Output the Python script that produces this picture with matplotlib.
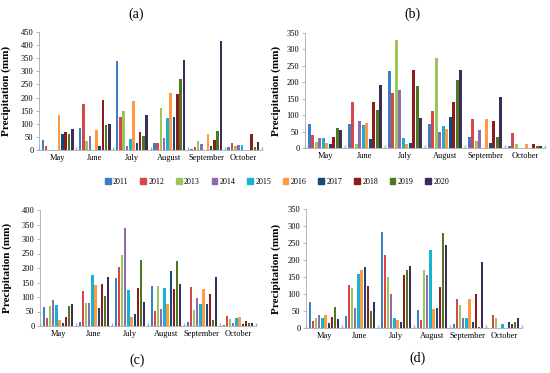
import numpy as np
import matplotlib.pyplot as plt
from matplotlib.patches import Patch

plt.rcParams['font.family'] = ['Liberation Serif', 'DejaVu Serif']

months = ['May', 'June', 'July', 'August', 'September', 'October']
years = ['2011', '2012', '2013', '2014', '2015', '2016', '2017', '2018', '2019', '2020']
colors = ['#3A7FC1', '#D9474B', '#9CC55C', '#8F6BB5', '#17B2D2',
          '#FF9A40', '#10497A', '#8A1C1E', '#4D7721', '#3E2B5A']

# precipitation (mm), one row per year, columns May..October
prec_a = [
    [40, 82, 340, 26, 2, 10],
    [16, 176, 126, 28, 10, 27],
    [0, 34, 150, 161, 33, 15],
    [0, 53, 15, 46, 24, 18],
    [0, 0, 42, 121, 0, 18],
    [134, 75, 186, 216, 62, 0],
    [60, 14, 27, 126, 16, 0],
    [70, 189, 67, 213, 39, 60],
    [60, 97, 52, 270, 72, 13],
    [80, 100, 134, 345, 416, 29],
]
prec_b = [
    [72, 74, 235, 74, 32, 7],
    [39, 141, 167, 112, 89, 45],
    [18, 13, 330, 274, 21, 13],
    [29, 82, 178, 48, 55, 0],
    [31, 69, 30, 68, 0, 0],
    [14, 77, 13, 59, 88, 13],
    [12, 28, 16, 94, 15, 0],
    [32, 141, 238, 140, 81, 13],
    [60, 115, 188, 207, 34, 7],
    [54, 192, 92, 237, 155, 6],
]
prec_c = [
    [64, 14, 164, 137, 15, 4],
    [29, 121, 204, 53, 133, 33],
    [68, 79, 246, 137, 55, 24],
    [88, 80, 338, 57, 95, 10],
    [71, 175, 125, 130, 75, 26],
    [20, 140, 32, 77, 126, 31],
    [11, 63, 41, 190, 75, 7],
    [30, 145, 132, 128, 109, 16],
    [68, 102, 226, 225, 22, 10],
    [77, 168, 82, 146, 168, 10],
]
prec_d = [
    [76, 34, 283, 53, 12, 0],
    [21, 127, 215, 25, 86, 39],
    [29, 118, 151, 171, 67, 28],
    [39, 60, 99, 156, 30, 0],
    [30, 160, 29, 228, 29, 12],
    [39, 170, 25, 56, 85, 0],
    [14, 179, 18, 59, 18, 18],
    [33, 123, 157, 121, 99, 11],
    [62, 50, 172, 279, 4, 19],
    [26, 76, 181, 243, 193, 30],
]

fig = plt.figure(figsize=(5.5, 3.73), dpi=100)


def px_axes(left, top, right, bottom):
    return fig.add_axes([left / 550, 1 - bottom / 373,
                         (right - left) / 550, (bottom - top) / 373])


def draw_panel(ax, data, ymax, ylab_x):
    x = np.arange(len(months))
    slot = 0.088
    for i, vals in enumerate(data):
        ax.bar(x + (i - 4.5) * slot, vals, width=slot * 0.78,
               color=colors[i], linewidth=0)
    ax.set_xlim(-0.5, len(months) - 0.5)
    ax.set_ylim(0, ymax)
    ax.set_yticks(np.arange(0, ymax + 1, 50))
    ax.set_xticks(x)
    ax.set_xticklabels(months)
    ax.set_xticks(np.arange(len(months) + 1) - 0.5, minor=True)
    ax.tick_params(axis='x', which='major', length=0, pad=3, labelsize=6)
    ax.tick_params(axis='x', which='minor', length=2, direction='in',
                   color='#aaaaaa', width=1)
    ax.tick_params(axis='y', length=2, width=0.5, color='#999999',
                   pad=2, labelsize=6)
    for s in ['top', 'right']:
        ax.spines[s].set_visible(False)
    for s in ['left', 'bottom']:
        ax.spines[s].set_color('#aaaaaa')
        ax.spines[s].set_linewidth(0.6)
    ax.set_ylabel('Precipitation (mm)', fontsize=8, fontweight='bold')
    ax.yaxis.set_label_coords(ylab_x, 0.5)


ax_a = px_axes(39, 32, 262, 150)
draw_panel(ax_a, prec_a, 450, -28 / 223)
ax_b = px_axes(305, 33, 545, 148)
draw_panel(ax_b, prec_b, 350, -24 / 240)
ax_c = px_axes(40, 210, 256, 326)
draw_panel(ax_c, prec_c, 400, -28 / 216)
ax_d = px_axes(306, 209, 522, 328)
draw_panel(ax_d, prec_d, 350, -25 / 216)

fig.text(136 / 550, 1 - 14 / 373, '(a)', fontsize=10, ha='center', va='center')
fig.text(412 / 550, 1 - 14 / 373, '(b)', fontsize=10, ha='center', va='center')
fig.text(137 / 550, 1 - 360 / 373, '(c)', fontsize=10, ha='center', va='center')
fig.text(418 / 550, 1 - 358 / 373, '(d)', fontsize=10, ha='center', va='center')

handles = [Patch(color=c, label=y) for c, y in zip(colors, years)]
fig.legend(handles=handles, ncol=10, loc='center', bbox_to_anchor=(277 / 550, 1 - 182 / 373),
           frameon=False, fontsize=5.8, handlelength=0.7, handleheight=0.7,
           handletextpad=0.3, columnspacing=1.45)

fig.savefig('out.png', dpi=100)
